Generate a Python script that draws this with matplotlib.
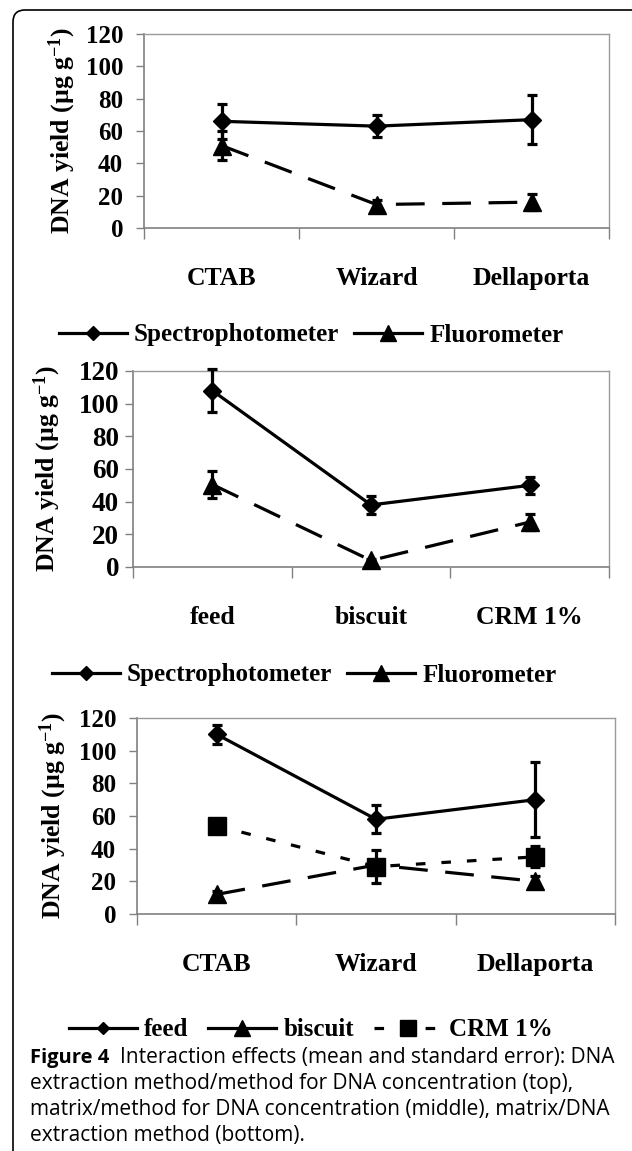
"""Figure 4 — interaction effects on DNA yield (mean and standard error).

Three stacked Excel-style line charts with error bars, each with its legend
underneath, followed by the figure caption.
"""

import matplotlib
matplotlib.use("Agg")
import matplotlib.pyplot as plt
from matplotlib.lines import Line2D
from matplotlib.patches import FancyBboxPatch
import numpy as np

W, H = 632, 1151  # output size in pixels (dpi 100)

plt.rcParams["font.family"] = ["Liberation Serif", "DejaVu Serif"]
plt.rcParams["font.weight"] = "bold"
plt.rcParams["mathtext.fontset"] = "custom"
plt.rcParams["mathtext.rm"] = "Liberation Serif:bold"
plt.rcParams["mathtext.bf"] = "Liberation Serif:bold"
plt.rcParams["mathtext.default"] = "rm"

# ---------------------------------------------------------------------------
# Data
# ---------------------------------------------------------------------------

# top: DNA extraction method x method for DNA concentration
methods = ["CTAB", "Wizard", "Dellaporta"]
spectro_top = [66, 63, 67]
spectro_top_se = [11, 7, 15]
fluoro_top = [51, 14.5, 16]
fluoro_top_se = [9, 3, 5]

# middle: matrix x method for DNA concentration
matrices = ["feed", "biscuit", "CRM 1%"]
spectro_mid = [108, 38, 50]
spectro_mid_se = [13, 5.5, 5]
fluoro_mid = [50.5, 4, 27.5]
fluoro_mid_se = [8.5, 1, 5]

# bottom: matrix x DNA extraction method
feed_bot = [110, 58, 70]
feed_bot_se = [6, 8.7, 23]
biscuit_bot = [12, 30, 20]
biscuit_bot_se = [2, 3, 3]
crm_bot = [54, 29, 35]
crm_bot_se = [1.5, 10, 6.5]

yticks = [0, 20, 40, 60, 80, 100, 120]
ylabel = r"DNA yield (µg g$^{-1}$)"

caption_bold = "Figure 4"
caption_lines = [
    "Interaction effects (mean and standard error): DNA",
    "extraction method/method for DNA concentration (top),",
    "matrix/method for DNA concentration (middle), matrix/DNA",
    "extraction method (bottom).",
]

# ---------------------------------------------------------------------------
# Styling
# ---------------------------------------------------------------------------

FRAME = "#9a9a9a"
AXIS = "#808080"
LW = 2.3
LONG_DASH = (0, (9, 5.5))
SHORT_DASH = (0, (3, 5))


def px_axes(fig, x0, y0, x1, y1):
    """Add axes from a pixel box given with a top-left origin."""
    return fig.add_axes([x0 / W, 1 - y1 / H, (x1 - x0) / W, (y1 - y0) / H])


def style_axes(ax, cats, ylabel_x, ytick_pad, ytick_size):
    ax.set_xlim(0, 3)
    ax.set_ylim(0, 120)
    ax.set_yticks(yticks)
    ax.set_xticks([0, 1, 2, 3])
    ax.set_xticklabels([])
    ax.set_xticks([0.5, 1.5, 2.5], minor=True)
    ax.set_xticklabels(cats, minor=True, fontsize=18.5, fontweight="bold")
    ax.tick_params(axis="x", which="major", length=8, width=1, color=AXIS, direction="out")
    ax.tick_params(axis="x", which="minor", length=0, pad=28)
    ax.tick_params(axis="y", length=6, width=1, color=AXIS, direction="out",
                   pad=ytick_pad, labelsize=ytick_size)
    for lab in ax.get_yticklabels():
        lab.set_fontweight("bold")
    for side in ("top", "right"):
        ax.spines[side].set_color(FRAME)
        ax.spines[side].set_linewidth(1.0)
    for side in ("left", "bottom"):
        ax.spines[side].set_color(AXIS)
        ax.spines[side].set_linewidth(1.2)
    ax.set_ylabel(ylabel, fontsize=18.5, fontweight="bold", va="center")
    ax.yaxis.set_label_coords(ylabel_x, 0.5)


def draw_series(ax, y, err, ls, marker, ms):
    x = np.arange(len(y)) + 0.5
    ax.errorbar(x, y, yerr=err, fmt="none", ecolor="black", elinewidth=LW,
                capsize=3.8, capthick=LW, zorder=3, clip_on=False)
    ax.plot(x, y, color="black", lw=LW, linestyle=ls, marker=marker, ms=ms,
            mfc="black", mec="black", zorder=4, clip_on=False)


def add_legend(fig, entries, x0, yc, colsp):
    handles = [
        Line2D([], [], color="black", lw=LW, linestyle=ls, marker=mk, ms=ms)
        for _, ls, mk, ms in entries
    ]
    labels = [lab for lab, _, _, _ in entries]
    fig.legend(handles, labels, loc="center left", bbox_to_anchor=(x0 / W, 1 - yc / H),
               ncol=len(entries), frameon=False, handlelength=2.7,
               handletextpad=0.3, columnspacing=colsp, borderpad=0, borderaxespad=0,
               prop={"weight": "bold", "size": 18})


fig = plt.figure(figsize=(W / 100, H / 100), dpi=100)

# rounded frame around the whole figure
bg = fig.add_axes([0, 0, 1, 1], zorder=-1)
bg.set_xlim(0, W)
bg.set_ylim(H, 0)
bg.axis("off")
bg.add_patch(FancyBboxPatch((13, 10), 640, 1170, boxstyle="round,pad=0,rounding_size=12",
                            fill=False, ec="black", lw=1.2))

# --- top panel -------------------------------------------------------------
ax1 = px_axes(fig, 144, 34, 609, 228)
style_axes(ax1, methods, (62 - 144) / 465, 9, 18)
draw_series(ax1, spectro_top, spectro_top_se, "-", "D", 9.5)
draw_series(ax1, fluoro_top, fluoro_top_se, LONG_DASH, "^", 12.5)
add_legend(fig, [("Spectrophotometer", "-", "D", 7.5),
                 ("Fluorometer", "-", "^", 11)], 59, 335, 0.6)

# --- middle panel ----------------------------------------------------------
ax2 = px_axes(fig, 133, 371, 609, 567)
style_axes(ax2, matrices, (47 - 133) / 476, 4, 19.5)
draw_series(ax2, spectro_mid, spectro_mid_se, "-", "D", 9.5)
draw_series(ax2, fluoro_mid, fluoro_mid_se, LONG_DASH, "^", 12.5)
add_legend(fig, [("Spectrophotometer", "-", "D", 7.5),
                 ("Fluorometer", "-", "^", 11)], 52, 675, 0.6)

# --- bottom panel ----------------------------------------------------------
ax3 = px_axes(fig, 137, 718, 615, 914)
style_axes(ax3, methods, (53 - 137) / 478, 9, 18)
draw_series(ax3, feed_bot, feed_bot_se, "-", "D", 9.5)
draw_series(ax3, biscuit_bot, biscuit_bot_se, LONG_DASH, "^", 12.5)
draw_series(ax3, crm_bot, crm_bot_se, SHORT_DASH, "s", 13)
add_legend(fig, [("feed", "-", "D", 6.5),
                 ("biscuit", "-", "^", 11),
                 ("CRM 1%", SHORT_DASH, "s", 11.5)], 69, 1030, 0.8)

# --- caption ---------------------------------------------------------------
cap_font = ["Open Sans", "DejaVu Sans"]
fig.text(30 / W, 1 - 1063 / H, caption_bold, family=cap_font, fontsize=14.5,
         fontweight="bold", va="baseline")
for i, line in enumerate(caption_lines):
    x = 120 if i == 0 else 30
    fig.text(x / W, 1 - (1063 + 26 * i) / H, line, family=cap_font, fontsize=15,
             fontweight="normal", va="baseline")

fig.savefig("out.png", dpi=100)
